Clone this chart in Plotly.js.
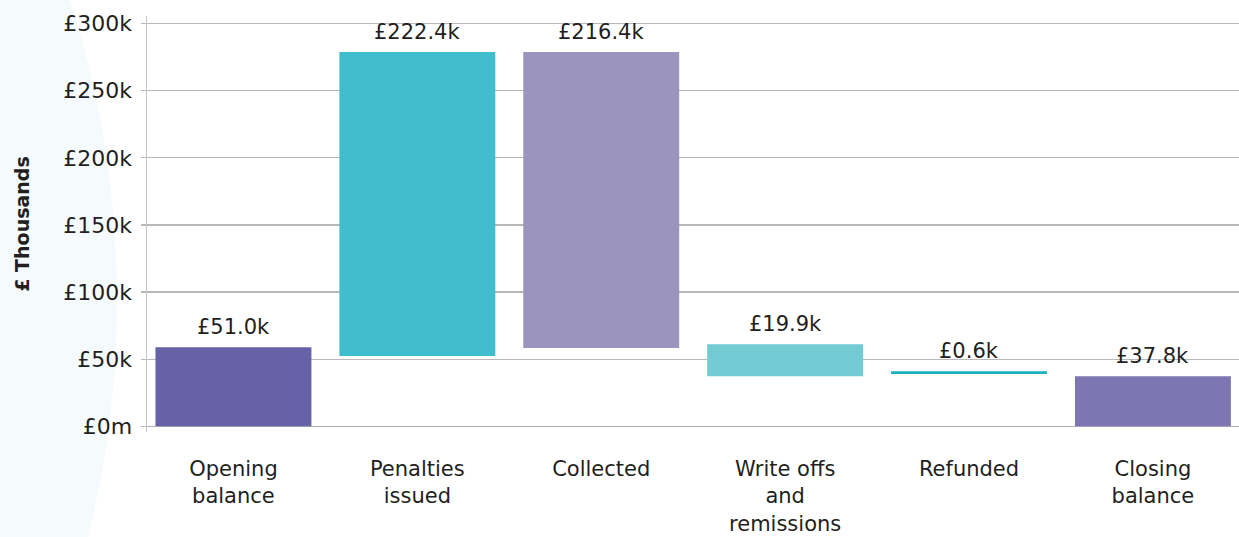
<!DOCTYPE html>
<html>
<head>
<meta charset="utf-8">
<script src="https://cdn.plot.ly/plotly-3.0.1.min.js"></script>
<style>
  html, body { margin: 0; padding: 0; background: #ffffff; overflow: hidden; }
  #wrap { position: relative; width: 1239px; height: 537px; overflow: hidden; background: #ffffff; }
  #deco { position: absolute; left: -1845px; top: -681px; width: 1962px; height: 1962px; border-radius: 50%; background: #f5fafc; z-index: 0; }
  #chart { position: absolute; left: 0; top: 0; width: 1239px; height: 537px; z-index: 1; }
</style>
</head>
<body>
<div id="wrap">
  <div id="deco"></div>
  <div id="chart"></div>
</div>
<script>
// Categories (x axis)
const categories = ['Opening<br>balance', 'Penalties<br>issued', 'Collected', 'Write offs<br>and<br>remissions', 'Refunded', 'Closing<br>balance'];
// Bar start and end values (£ thousands) as drawn in the picture
const barBase = [0, 52.4, 58.4, 37.3, 39.0, 0];
const barTop = [58.9, 278.7, 278.7, 61.1, 41.0, 37.3];
// Value labels printed above bars
const valueLabels = ['£51.0k', '£222.4k', '£216.4k', '£19.9k', '£0.6k', '£37.8k'];
// Y axis ticks
const yTickVals = [0, 50, 100, 150, 200, 250, 300];
const yTickText = ['£0m', '£50k', '£100k', '£150k', '£200k', '£250k', '£300k'];

const barColors = ['#6662a8', '#41bece', '#9b95be', '#71cdd3', '#1ab0c1', '#7c77b3'];
const FONT = 'DejaVu Sans, sans-serif';
const TXT = '#231f20';

const trace = {
  type: 'bar',
  x: categories,
  base: barBase,
  y: barTop.map((t, i) => t - barBase[i]),
  width: 0.848,
  marker: { color: barColors, line: { width: 0 } },
  hoverinfo: 'skip',
  showlegend: false
};

const annotations = categories.map((c, i) => ({
  x: c, y: barTop[i], xref: 'x', yref: 'y',
  text: valueLabels[i], showarrow: false,
  xanchor: 'center', yanchor: 'middle', yshift: 20,
  font: { family: FONT, size: 21, color: TXT }
}));

const layout = {
  width: 1239, height: 537,
  margin: { l: 147, r: 0, t: 16, b: 105.3, pad: 0 },
  paper_bgcolor: 'rgba(0,0,0,0)',
  plot_bgcolor: 'rgba(0,0,0,0)',
  showlegend: false,
  xaxis: {
    type: 'category',
    range: [-0.47, 5.468],
    showgrid: false, zeroline: false, showline: false,
    ticks: '',
    ticklabelstandoff: 22,
    tickfont: { family: FONT, size: 21, color: TXT },
    fixedrange: true
  },
  yaxis: {
    range: [-4.2, 305.6],
    tickvals: yTickVals, ticktext: yTickText,
    showgrid: true, gridcolor: '#b8b8b8', gridwidth: 1.3,
    zeroline: true, zerolinecolor: '#b0b0b0', zerolinewidth: 1.5,
    showline: true, linecolor: '#c4c4c4', linewidth: 1.5,
    ticks: 'outside', ticklen: 5, tickcolor: '#b8b8b8', tickwidth: 1.3,
    ticklabelstandoff: 4,
    tickfont: { family: FONT, size: 22, color: TXT },
    title: { text: '£ Thousands', font: { family: FONT, size: 19, color: TXT, weight: 'bold' }, standoff: 28 },
    fixedrange: true
  },
  annotations: annotations
};

Plotly.newPlot('chart', [trace], layout, { displayModeBar: false, staticPlot: true });
</script>
</body>
</html>
